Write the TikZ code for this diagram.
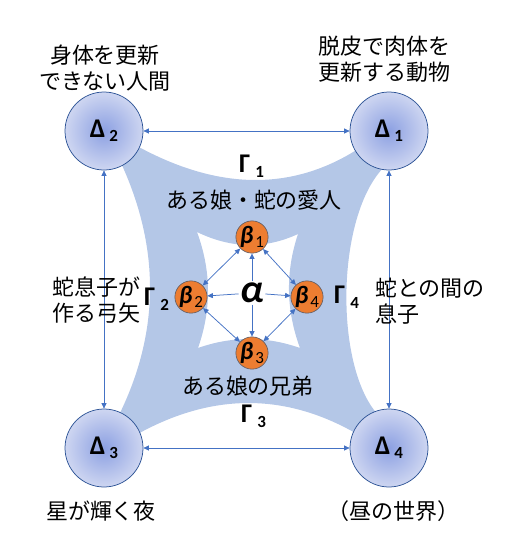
\documentclass[tikz,border=0pt]{standalone}
\usepackage{fontspec}
\setmainfont{Carlito}
\newfontfamily\jp{Noto Sans CJK JP}
\usetikzlibrary{arrows.meta}
\definecolor{band}{RGB}{180,199,231}
\definecolor{arr}{RGB}{68,114,196}
\definecolor{dline}{RGB}{47,85,151}
\definecolor{din}{RGB}{140,160,226}
\definecolor{dout}{RGB}{206,214,241}
\definecolor{orng}{RGB}{237,125,49}
\definecolor{bline}{RGB}{90,90,100}
\newcommand{\dlab}[1]{{\fontsize{27}{27}\selectfont\bfseries Δ\hspace{4pt}\raisebox{-4pt}{\fontsize{17}{17}\selectfont #1}}}
\newcommand{\blab}[1]{{\fontsize{25}{25}\selectfont\bfseries\itshape β\hspace{2pt}\raisebox{-4pt}{\fontsize{17}{17}\selectfont\normalfont #1}}}
\newcommand{\glab}[1]{{\fontsize{27}{27}\selectfont\bfseries Γ\hspace{5pt}\raisebox{-5pt}{\fontsize{17}{17}\selectfont #1}}}
\begin{document}
\begin{tikzpicture}[x=1pt,y=-1pt,
  bigc/.style={circle, draw=dline, line width=0.75pt, minimum size=78pt, inner sep=0pt, shading=radial, inner color=din, outer color=dout},
  smallc/.style={circle, draw=bline, line width=0.6pt, fill=orng, minimum size=32pt, inner sep=0pt},
  link/.style={draw=arr, line width=0.75pt, {Triangle[length=5.5pt,width=5pt]}-{Triangle[length=5.5pt,width=5pt]}},
  oneway/.style={draw=arr, line width=0.75pt, -{Triangle[length=5.5pt,width=5pt]}},
  jtext/.style={font=\jp\fontsize{22}{26}\selectfont, inner sep=0pt},
  gtext/.style={inner sep=0pt, anchor=base west}]
\useasboundingbox (0,0) rectangle (508,558);
% blue band with hole
\fill[band, even odd rule]
  (104,131) -- (137,146) .. controls (218,190.3) and (291.7,191.3) .. (358,149) -- (389,131)
  -- (384.4,166.7) .. controls (336,215) and (334,365) .. (377.3,414) -- (389,448)
  -- (356,433.4) .. controls (284.8,392.7) and (212,392.9) .. (137.7,434) -- (104,448)
  -- (119,415) .. controls (159.7,332.3) and (160.3,248.3) .. (121,163) -- cycle
  (197,232) .. controls (231.3,248.7) and (265,249.3) .. (298,234)
  .. controls (285.3,272) and (286,310) .. (300,348)
  .. controls (266,336) and (232,336) .. (198,348)
  .. controls (211.7,309.3) and (211.3,270.7) .. cycle;
% big circles
\node[bigc] (d2) at (104,131) {\dlab{2}};
\node[bigc] (d1) at (389,131) {\dlab{1}};
\node[bigc] (d3) at (104,448) {\dlab{3}};
\node[bigc] (d4) at (389,448) {\dlab{4}};
\draw[link] (d2) -- (d1);
\draw[link] (d2) -- (d3);
\draw[link] (d1) -- (d4);
\draw[link] (d3) -- (d4);
% small circles
\node[smallc] (b1) at (252,237) {\blab{1}};
\node[smallc] (b2) at (191,297) {\blab{2}};
\node[smallc] (b4) at (307,297) {\blab{4}};
\node[smallc] (b3) at (252,353) {\blab{3}};
\node[inner sep=1.5pt, font=\fontsize{40}{40}\selectfont\bfseries\itshape] (al) at (252,293) {α};
\draw[link] (b1) -- (b2);
\draw[link] (b1) -- (b4);
\draw[link] (b2) -- (b3);
\draw[link] (b4) -- (b3);
\draw[oneway] (al) -- (b1);
\draw[oneway] (al) -- (b2);
\draw[oneway] (al) -- (b3);
\draw[oneway] (al) -- (b4);
% gamma labels
\node[gtext] (g1) at (239,172) {\glab{1}};
\node[gtext] (g2) at (144,305) {\glab{2}};
\node[gtext] (g3) at (241,422) {\glab{3}};
\node[gtext] (g4) at (334,303) {\glab{4}};
% japanese text
\node[jtext, align=center] (t2) at (105,68.5) {身体を更新\\できない人間};
\node[jtext, align=center] (t1) at (384,59.5) {脱皮で肉体を\\更新する動物};
\node[jtext, align=left, anchor=west] (tl) at (52,300.5) {蛇息子が\\作る弓矢};
\node[jtext, align=left, anchor=west] (tr) at (375,301.5) {蛇との間の\\息子};
\node[jtext] (tt) at (254,200) {ある娘・蛇の愛人};
\node[jtext] (tb) at (248,386) {ある娘の兄弟};
\node[jtext] (t3) at (101,511) {星が輝く夜};
\node[jtext] (t4) at (393,511) {（昼の世界）};
\end{tikzpicture}
\end{document}
